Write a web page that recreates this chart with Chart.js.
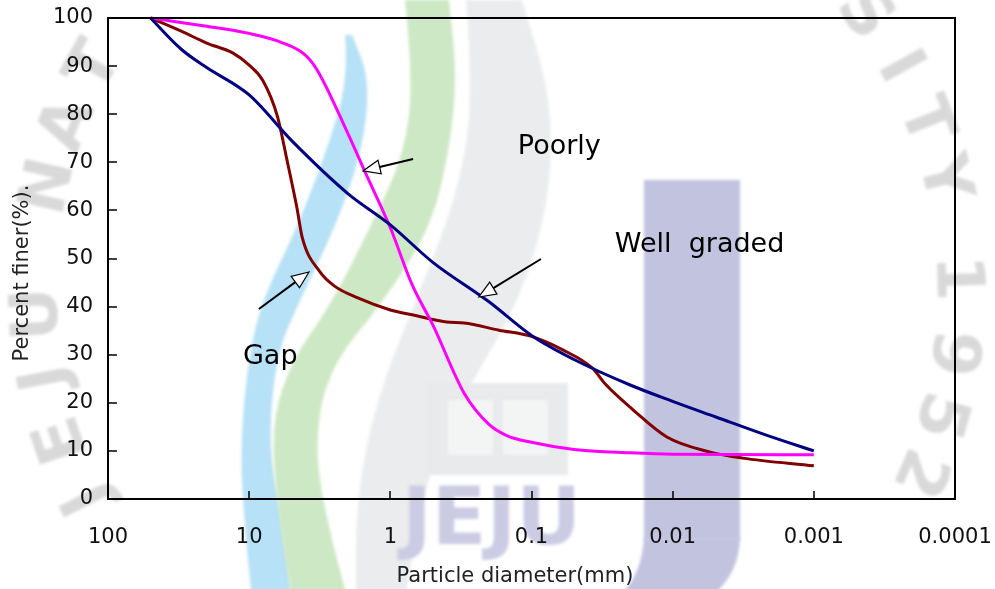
<!DOCTYPE html>
<html>
<head>
<meta charset="utf-8">
<script src="https://cdn.jsdelivr.net/npm/chart.js@4.4.1/dist/chart.umd.min.js"></script>
<style>
  html, body { margin: 0; padding: 0; background: #fff; }
  #wrap { width: 995px; height: 589px; }
</style>
</head>
<body>
<div id="wrap"><canvas id="grading" width="995" height="589"></canvas></div>
<script>
// Grain size distribution curves, particle diameter on a reversed log axis

const xTicks = [100, 10, 1, 0.1, 0.01, 0.001, 0.0001];
const xTickLabels = ['100', '10', '1', '0.1', '0.01', '0.001', '0.0001'];
const yTicks = [0, 10, 20, 30, 40, 50, 60, 70, 80, 90, 100];

// Well graded (navy)
const wellSize = [50, 30, 20, 10, 5, 2, 1, 0.5, 0.2, 0.1, 0.05, 0.02, 0.01, 0.005, 0.002, 0.001];
const wellFiner = [100, 93.4, 89.7, 84, 74.5, 63.5, 57, 49.2, 41, 34, 29, 23.7, 20.3, 17.1, 12.9, 10];

// Poorly graded (magenta)
const poorSize = [50, 20, 10, 6, 4, 3.3, 2, 1.5, 1, 0.7, 0.5, 0.3, 0.2, 0.15, 0.1, 0.05, 0.02, 0.01, 0.001];
const poorFiner = [100, 98.3, 96.8, 95, 92.3, 89.2, 76, 67.8, 56.4, 44.5, 36.2, 22, 15.5, 13.2, 11.8, 10.3, 9.6, 9.3, 9.2];

// Gap graded (maroon)
const gapSize = [50, 30, 20, 13, 10, 8, 6.3, 5.4, 4.6, 4.2, 3.15, 2.5, 1.7, 1, 0.7, 0.4, 0.3, 0.17, 0.1, 0.06, 0.037, 0.03, 0.019, 0.011, 0.0055, 0.0032, 0.001];
const gapFiner = [100, 97.2, 94.8, 92.7, 90.2, 87, 79.5, 70.5, 60.7, 54.3, 47.2, 44.3, 41.8, 39.3, 38.3, 36.8, 36.6, 35.1, 33.8, 31, 27.2, 23.9, 18.5, 12.9, 9.8, 8.5, 6.9];

const FONT = '"DejaVu Sans", "Liberation Sans", sans-serif';

function toPoints(xs, ys) {
    return xs.map((x, i) => ({ x: x, y: ys[i] }));
}

// smooth outline through a list of points (quadratic through midpoints)
function trace(ctx, p, first) {
    if (first) ctx.moveTo(p[0][0], p[0][1]);
    else ctx.lineTo(p[0][0], p[0][1]);
    for (let i = 1; i < p.length - 1; i++) {
        const mx = (p[i][0] + p[i + 1][0]) / 2;
        const my = (p[i][1] + p[i + 1][1]) / 2;
        ctx.quadraticCurveTo(p[i][0], p[i][1], mx, my);
    }
    ctx.lineTo(p[p.length - 1][0], p[p.length - 1][1]);
}

function band(ctx, left, right, color) {
    ctx.beginPath();
    trace(ctx, left, true);
    trace(ctx, right.slice().reverse(), false);
    ctx.closePath();
    ctx.fillStyle = color;
    ctx.fill();
}

function arcLetters(ctx, letters, angles) {
    const cx = 497, cy = 290, r = 458;
    ctx.save();
    ctx.fillStyle = '#d9d9d9';
    ctx.font = 'bold 66px ' + FONT;
    ctx.textAlign = 'center';
    ctx.textBaseline = 'middle';
    letters.forEach((ch, i) => {
        const a = angles[i] * Math.PI / 180;
        ctx.save();
        ctx.translate(cx + r * Math.cos(a), cy + r * Math.sin(a));
        ctx.rotate(a + Math.PI / 2);
        ctx.fillText(ch, 0, 0);
        ctx.restore();
    });
    ctx.restore();
}

// university seal watermark behind the chart
const watermark = {
    id: 'watermark',
    beforeDraw(chart) {
        const ctx = chart.ctx;
        ctx.save();
        ctx.fillStyle = '#fff';
        ctx.fillRect(0, 0, chart.width, chart.height);
        ctx.filter = 'blur(1.5px)';

        // grey ring
        band(ctx,
            [[466, 0], [474, 100], [456, 200], [416, 300], [376, 400], [356, 500], [356, 600]],
            [[522, 0], [552, 100], [550, 200], [520, 300], [470, 385], [425, 470], [405, 600]],
            '#ebeced');
        // book emblem
        ctx.fillStyle = '#e9eaeb';
        ctx.fillRect(426, 383, 142, 92);
        ctx.fillStyle = '#f3f4f4';
        ctx.fillRect(448, 400, 45, 55);
        ctx.fillRect(503, 400, 45, 55);

        // sky blue swoosh
        band(ctx,
            [[345, 35], [349, 77], [326, 153], [296, 230], [262, 300], [248, 360], [240, 450], [245, 530], [252, 600]],
            [[352, 35], [370, 80], [362, 153], [334, 230], [300, 300], [276, 355], [268, 450], [285, 530], [292, 600]],
            '#b6e1f6');
        // green swoosh
        band(ctx,
            [[405, 0], [413, 77], [405, 153], [369, 230], [330, 306], [292, 360], [272, 420], [276, 500], [292, 600]],
            [[449, 0], [457, 77], [449, 153], [430, 230], [380, 306], [335, 360], [316, 420], [320, 500], [348, 600]],
            '#cde8c4');

        // lavender J
        ctx.fillStyle = '#c2c3df';
        ctx.fillRect(644, 180, 96, 360);
        ctx.beginPath();
        ctx.moveTo(644, 538);
        ctx.lineTo(740, 538);
        ctx.quadraticCurveTo(738, 600, 660, 620);
        ctx.lineTo(580, 620);
        ctx.quadraticCurveTo(640, 600, 644, 538);
        ctx.fill();

        ctx.fillStyle = '#cbcce4';
        ctx.font = 'bold 80px ' + FONT;
        ctx.textAlign = 'left';
        ctx.textBaseline = 'alphabetic';
        ctx.fillText('JEJU', 402, 544);

        arcLetters(ctx, ['J', 'E', 'J', 'U', 'N', 'A', 'T'], [153, 161, 169, 177, 193, 201, 209]);
        arcLetters(ctx, ['S', 'I', 'T', 'Y', '1', '9', '5', '2'], [-37, -29, -21.5, -14, -1.5, 7.9, 15.8, 23.4]);
        ctx.restore();
    }
};

function arrow(ctx, x0, y0, x1, y1) {
    const ang = Math.atan2(y1 - y0, x1 - x0);
    const len = 17, hw = 7;
    const bx = x1 - len * Math.cos(ang);
    const by = y1 - len * Math.sin(ang);
    ctx.strokeStyle = '#000';
    ctx.lineWidth = 2;
    ctx.beginPath();
    ctx.moveTo(x0, y0);
    ctx.lineTo(bx, by);
    ctx.stroke();
    ctx.beginPath();
    ctx.moveTo(x1, y1);
    ctx.lineTo(bx + hw * Math.sin(ang), by - hw * Math.cos(ang));
    ctx.lineTo(bx - hw * Math.sin(ang), by + hw * Math.cos(ang));
    ctx.closePath();
    ctx.fillStyle = '#fff';
    ctx.fill();
    ctx.lineWidth = 1.2;
    ctx.stroke();
}

// frame, inward ticks, axis titles and the curve labels
const frame = {
    id: 'frame',
    afterDraw(chart) {
        const { ctx, chartArea: a, scales: { x, y } } = chart;
        ctx.save();
        ctx.strokeStyle = '#000';
        ctx.lineWidth = 2;
        ctx.strokeRect(a.left, a.top, a.right - a.left, a.bottom - a.top);

        ctx.lineWidth = 1.5;
        ctx.beginPath();
        yTicks.forEach(v => {
            const py = Math.round(y.getPixelForValue(v));
            ctx.moveTo(a.left, py);
            ctx.lineTo(a.left + 9, py);
        });
        xTicks.forEach(v => {
            const px = Math.round(x.getPixelForValue(v));
            ctx.moveTo(px, a.bottom);
            ctx.lineTo(px, a.bottom - 8);
        });
        ctx.stroke();

        // axis titles
        ctx.fillStyle = '#222';
        ctx.font = '21px ' + FONT;
        ctx.textAlign = 'center';
        ctx.textBaseline = 'middle';
        ctx.fillText('Particle diameter(mm)', 515, 577);
        ctx.save();
        ctx.translate(23, 273);
        ctx.rotate(-Math.PI / 2);
        ctx.fillText('Percent finer(%).', 0, 0);
        ctx.restore();

        // curve labels with arrows (placed in data coordinates)
        const px = v => x.getPixelForValue(v);
        const py = v => y.getPixelForValue(v);
        ctx.fillStyle = '#000';
        ctx.font = '27px ' + FONT;
        ctx.textAlign = 'left';
        ctx.fillText('Poorly', px(0.125), py(73.2));
        ctx.fillText('Well  graded', px(0.0257), py(52.8));
        ctx.fillText('Gap', px(11.07), py(29.5));

        arrow(ctx, px(0.69), py(70.7), px(1.56), py(68.2));
        arrow(ctx, px(0.0857), py(49.9), px(0.236), py(42));
        arrow(ctx, px(8.53), py(39.5), px(3.77), py(47.2));
        ctx.restore();
    }
};

const ctx = document.getElementById('grading');

function curve(label, xs, ys, color) {
    return {
        label: label,
        data: toPoints(xs, ys),
        borderColor: color,
        backgroundColor: color,
        borderWidth: 3,
        pointRadius: 0,
        fill: false,
        clip: false,
        cubicInterpolationMode: 'monotone'
    };
}

new Chart(ctx, {
    type: 'line',
    data: {
        datasets: [
            curve('Well graded', wellSize, wellFiner, '#000080'),
            curve('Poorly', poorSize, poorFiner, '#ff00ff'),
            curve('Gap', gapSize, gapFiner, '#800000')
        ]
    },
    options: {
        responsive: false,
        animation: false,
        events: [],
        layout: { padding: { top: 18, right: 40, left: 0, bottom: 0 } },
        plugins: {
            legend: { display: false },
            tooltip: { enabled: false }
        },
        scales: {
            x: {
                type: 'logarithmic',
                reverse: true,
                min: 0.0001,
                max: 100,
                afterBuildTicks: scale => {
                    scale.ticks = xTicks.map(v => ({ value: v }));
                },
                afterFit: scale => {
                    scale.height = 90;
                    scale.paddingLeft = 0;
                    scale.paddingRight = 0;
                },
                grid: { display: false, drawTicks: false },
                border: { display: false },
                ticks: {
                    autoSkip: false,
                    maxRotation: 0,
                    padding: 26,
                    color: '#111',
                    font: { family: FONT, size: 21 },
                    callback: v => xTickLabels[xTicks.indexOf(v)]
                }
            },
            y: {
                min: 0,
                max: 100,
                afterFit: scale => {
                    scale.width = 108;
                    scale.paddingTop = 0;
                    scale.paddingBottom = 0;
                },
                grid: { display: false, drawTicks: false },
                border: { display: false },
                ticks: {
                    stepSize: 10,
                    padding: 15,
                    color: '#111',
                    font: { family: FONT, size: 21 }
                }
            }
        }
    },
    plugins: [watermark, frame]
});
</script>
</body>
</html>
